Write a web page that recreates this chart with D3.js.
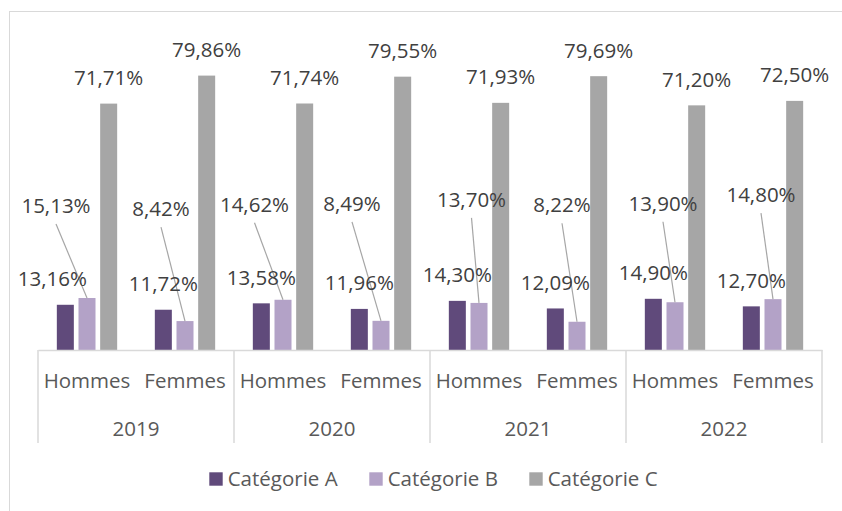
<!DOCTYPE html>
<html>
<head>
<meta charset="utf-8">
<script src="https://cdn.jsdelivr.net/npm/d3@7"></script>
<style>
  body { margin: 0; background: #fff; }
  svg { display: block; }
</style>
</head>
<body>
<script>
// data (values in %)
var years = ['2019', '2020', '2021', '2022'];
var genders = ['Hommes', 'Femmes'];
var seriesNames = ['Catégorie A', 'Catégorie B', 'Catégorie C'];
var catA = [13.16, 11.72, 13.58, 11.96, 14.30, 12.09, 14.90, 12.70];
var catB = [15.13, 8.42, 14.62, 8.49, 13.70, 8.22, 13.90, 14.80];
var catC = [71.71, 79.86, 71.74, 79.55, 71.93, 79.69, 71.20, 72.50];

var colors = ['#604a7b', '#b3a2c7', '#a6a6a6'];

// labels that were dragged by hand in the original (pixels, relative to bar top centre)
var shiftA = [[-13, -18.5], [0, -18.5], [0, -18.5], [0, -18.5], [0, -18.5], [0, -18.5], [0, -18.5], [0, -18.5]];
var shiftB = [[-31, -85], [-24, -105], [-28.5, -88], [-29, -110], [-7.5, -96], [-15, -109.5], [-12, -91.5], [-12, -97]];

var width = 842, height = 511;
var font = "'Open Sans', 'DejaVu Sans', sans-serif";

var svg = d3.select('body').append('svg').attr('width', width).attr('height', height);
svg.append('rect').attr('width', width).attr('height', height).attr('fill', '#fff');

// chart border (runs past the right and bottom edges of the picture)
svg.append('rect')
    .attr('x', 9.5).attr('y', 11.5)
    .attr('width', 900).attr('height', 600)
    .attr('fill', 'none').attr('stroke', '#d9d9d9').attr('stroke-width', 1);

var cats = [];
years.forEach(function (y) {
    genders.forEach(function (g) { cats.push(y + '|' + g); });
});

var x = d3.scaleBand().domain(cats).range([38, 822]);
var xYear = d3.scaleBand().domain(years).range([38, 822]);
var xs = d3.scaleBand().domain(seriesNames).range([-32.5, 32.5]).paddingInner(0.215).paddingOuter(0.1075);
var y = d3.scaleLinear().domain([0, 90]).range([350, 350 - 90 * 3.436]);

var series = [catA, catB, catC];

var rows = [];
cats.forEach(function (c, i) {
    series.forEach(function (s, k) {
        rows.push({ cat: c, i: i, k: k, name: seriesNames[k], v: s[i] });
    });
});

function barCx(d) {
    return x(d.cat) + x.bandwidth() / 2 + xs(d.name) + xs.bandwidth() / 2;
}

var g = svg.append('g');

g.selectAll('rect.bar')
    .data(rows)
    .enter().append('rect')
    .attr('class', 'bar')
    .attr('x', function (d) { return x(d.cat) + x.bandwidth() / 2 + xs(d.name); })
    .attr('y', function (d) { return y(d.v); })
    .attr('width', xs.bandwidth())
    .attr('height', function (d) { return y(0) - y(d.v); })
    .attr('fill', function (d) { return colors[d.k]; });

function fmt(v) {
    return v.toFixed(2).replace('.', ',') + '%';
}

function labelPos(d) {
    var cx = barCx(d), top = y(d.v);
    if (d.k === 0) return [cx + shiftA[d.i][0], top + shiftA[d.i][1]];
    if (d.k === 1) return [cx + shiftB[d.i][0], top + shiftB[d.i][1]];
    return [cx, top - 18.5];
}

// leader lines for the moved B labels
g.selectAll('line.leader')
    .data(rows.filter(function (d) { return d.k === 1; }))
    .enter().append('line')
    .attr('class', 'leader')
    .attr('x1', function (d) { return labelPos(d)[0]; })
    .attr('y1', function (d) { return labelPos(d)[1] + 11; })
    .attr('x2', function (d) { return barCx(d); })
    .attr('y2', function (d) { return y(d.v); })
    .attr('stroke', '#a6a6a6')
    .attr('stroke-width', 1.2);

g.selectAll('text.lbl')
    .data(rows)
    .enter().append('text')
    .attr('class', 'lbl')
    .attr('x', function (d) { return labelPos(d)[0]; })
    .attr('y', function (d) { return labelPos(d)[1]; })
    .attr('text-anchor', 'middle')
    .attr('font-family', font)
    .attr('font-size', 20.5)
    .attr('fill', '#404040')
    .text(function (d) { return fmt(d.v); });

// category axis
var axis = svg.append('g')
    .attr('transform', 'translate(0,350)')
    .call(d3.axisBottom(x).tickSize(0).tickSizeOuter(0)
        .tickFormat(function (c) { return c.split('|')[1]; }));
axis.select('.domain').attr('stroke', '#d9d9d9').attr('stroke-width', 1.5);
axis.selectAll('text')
    .attr('y', 38.3).attr('dy', null)
    .attr('font-family', font)
    .attr('font-size', 20.5)
    .attr('fill', '#595959');

var seps = years.map(function (yr) { return xYear(yr); }).concat([822]);
svg.selectAll('line.sep')
    .data(seps)
    .enter().append('line')
    .attr('class', 'sep')
    .attr('x1', function (d) { return d; })
    .attr('x2', function (d) { return d; })
    .attr('y1', 350)
    .attr('y2', 443)
    .attr('stroke', '#d9d9d9')
    .attr('stroke-width', 1.5);

svg.selectAll('text.year')
    .data(years)
    .enter().append('text')
    .attr('class', 'year')
    .attr('x', function (d) { return xYear(d) + xYear.bandwidth() / 2; })
    .attr('y', 435.7)
    .attr('text-anchor', 'middle')
    .attr('font-family', font)
    .attr('font-size', 20.5)
    .attr('fill', '#595959')
    .text(function (d) { return d; });

// legend
var legend = svg.selectAll('g.legend')
    .data(seriesNames)
    .enter().append('g')
    .attr('class', 'legend')
    .attr('transform', function (d, i) { return 'translate(' + (209.3 + i * 160) + ',472.3)'; });

legend.append('rect')
    .attr('width', 13.4).attr('height', 13.4)
    .attr('fill', function (d, i) { return colors[i]; });

legend.append('text')
    .attr('x', 18.4)
    .attr('y', 13.4)
    .attr('font-family', font)
    .attr('font-size', 20.5)
    .attr('fill', '#595959')
    .text(function (d) { return d; });
</script>
</body>
</html>
